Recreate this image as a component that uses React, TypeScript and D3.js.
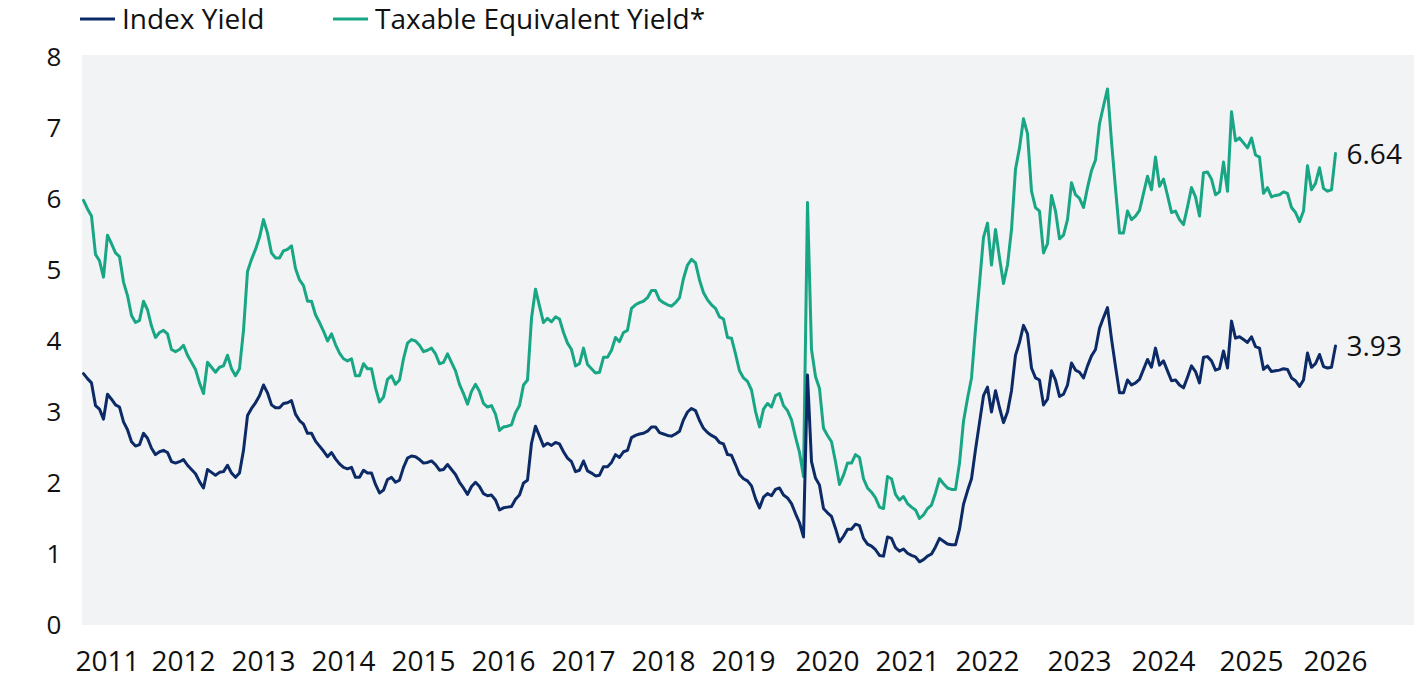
import React, { useEffect, useRef } from "react";
import * as d3 from "d3";

// Observation-indexed series (uniformly spaced observations)
const indexYield: number[] = [
  3.54,3.47,3.41,3.09,3.04,2.90,3.25,3.18,3.10,3.07,
  2.86,2.75,2.58,2.52,2.54,2.70,2.63,2.49,2.40,2.44,
  2.46,2.43,2.30,2.28,2.30,2.33,2.25,2.19,2.13,2.02,
  1.93,2.19,2.15,2.11,2.15,2.16,2.25,2.14,2.08,2.14,
  2.46,2.95,3.05,3.13,3.23,3.38,3.27,3.10,3.06,3.06,
  3.12,3.13,3.16,2.97,2.88,2.83,2.70,2.70,2.59,2.52,
  2.45,2.37,2.43,2.34,2.27,2.22,2.20,2.22,2.08,2.08,
  2.18,2.14,2.14,1.98,1.86,1.90,2.05,2.08,2.01,2.04,
  2.22,2.35,2.38,2.37,2.33,2.28,2.29,2.31,2.26,2.18,
  2.19,2.26,2.19,2.12,2.01,1.93,1.84,1.95,2.01,1.95,
  1.85,1.82,1.83,1.76,1.62,1.65,1.66,1.67,1.77,1.83,
  2.00,2.04,2.56,2.80,2.66,2.52,2.56,2.53,2.57,2.55,
  2.44,2.35,2.30,2.16,2.18,2.31,2.17,2.14,2.10,2.11,
  2.23,2.23,2.29,2.40,2.36,2.44,2.46,2.64,2.67,2.69,
  2.70,2.73,2.79,2.79,2.71,2.69,2.67,2.66,2.69,2.73,
  2.89,3.00,3.05,3.02,2.88,2.77,2.71,2.67,2.64,2.57,
  2.55,2.40,2.39,2.26,2.12,2.06,2.03,1.96,1.78,1.65,
  1.80,1.85,1.82,1.91,1.93,1.83,1.79,1.71,1.57,1.44,
  1.24,3.52,2.30,2.07,1.97,1.64,1.58,1.53,1.36,1.17,
  1.25,1.35,1.35,1.42,1.40,1.22,1.14,1.11,1.06,0.98,
  0.97,1.24,1.22,1.09,1.04,1.07,1.01,0.98,0.96,0.89,
  0.92,0.97,1.00,1.10,1.22,1.18,1.14,1.13,1.13,1.35,
  1.70,1.89,2.06,2.47,2.85,3.23,3.35,3.00,3.30,3.06,
  2.85,3.00,3.30,3.80,3.98,4.22,4.10,3.62,3.48,3.45,
  3.10,3.18,3.58,3.45,3.22,3.25,3.38,3.69,3.59,3.56,
  3.48,3.65,3.79,3.88,4.18,4.33,4.47,4.03,3.64,3.27,
  3.27,3.45,3.38,3.41,3.46,3.60,3.74,3.63,3.90,3.66,
  3.72,3.58,3.44,3.45,3.38,3.34,3.49,3.65,3.57,3.41,
  3.77,3.78,3.72,3.59,3.61,3.86,3.62,4.28,4.04,4.06,
  4.02,3.98,4.06,3.92,3.90,3.60,3.65,3.57,3.58,3.59,
  3.61,3.60,3.48,3.44,3.36,3.45,3.83,3.63,3.68,3.81,
  3.64,3.62,3.63,3.93,
];

const taxableEquivalentYield: number[] = [
  5.98,5.86,5.76,5.22,5.13,4.90,5.49,5.37,5.24,5.19,
  4.83,4.64,4.36,4.26,4.29,4.56,4.44,4.21,4.05,4.12,
  4.15,4.10,3.88,3.85,3.88,3.94,3.80,3.70,3.60,3.41,
  3.26,3.70,3.63,3.56,3.63,3.65,3.80,3.61,3.51,3.61,
  4.15,4.98,5.15,5.29,5.46,5.71,5.52,5.24,5.17,5.17,
  5.27,5.29,5.34,5.02,4.86,4.78,4.56,4.56,4.37,4.26,
  4.14,4.00,4.10,3.95,3.83,3.75,3.72,3.75,3.51,3.51,
  3.68,3.61,3.61,3.34,3.14,3.21,3.46,3.51,3.39,3.45,
  3.75,3.97,4.02,4.00,3.94,3.85,3.87,3.90,3.82,3.68,
  3.70,3.82,3.70,3.58,3.39,3.26,3.11,3.29,3.39,3.29,
  3.12,3.07,3.09,2.97,2.74,2.79,2.80,2.82,2.99,3.09,
  3.38,3.45,4.32,4.73,4.49,4.26,4.32,4.27,4.34,4.31,
  4.12,3.97,3.88,3.65,3.68,3.90,3.67,3.61,3.55,3.56,
  3.77,3.77,3.87,4.05,3.99,4.12,4.15,4.46,4.51,4.54,
  4.56,4.61,4.71,4.71,4.58,4.54,4.51,4.49,4.54,4.61,
  4.88,5.07,5.15,5.10,4.86,4.68,4.58,4.51,4.46,4.34,
  4.31,4.05,4.04,3.82,3.58,3.48,3.43,3.31,3.01,2.79,
  3.04,3.12,3.07,3.23,3.26,3.09,3.02,2.89,2.65,2.43,
  2.09,5.95,3.88,3.50,3.33,2.77,2.67,2.58,2.30,1.98,
  2.11,2.28,2.28,2.40,2.36,2.06,1.93,1.87,1.79,1.66,
  1.64,2.09,2.06,1.84,1.76,1.81,1.71,1.66,1.62,1.50,
  1.55,1.64,1.69,1.86,2.06,1.99,1.93,1.91,1.91,2.28,
  2.87,3.19,3.48,4.17,4.81,5.46,5.66,5.07,5.57,5.17,
  4.81,5.07,5.57,6.42,6.72,7.13,6.92,6.11,5.88,5.83,
  5.24,5.37,6.05,5.83,5.44,5.49,5.71,6.23,6.06,6.01,
  5.88,6.16,6.40,6.55,7.06,7.31,7.55,6.81,6.15,5.52,
  5.52,5.83,5.71,5.76,5.84,6.08,6.32,6.13,6.59,6.18,
  6.28,6.05,5.81,5.83,5.71,5.64,5.89,6.16,6.03,5.76,
  6.37,6.38,6.28,6.06,6.10,6.52,6.11,7.23,6.82,6.86,
  6.79,6.72,6.86,6.62,6.59,6.08,6.16,6.03,6.05,6.06,
  6.10,6.08,5.88,5.81,5.68,5.83,6.47,6.13,6.22,6.44,
  6.15,6.11,6.13,6.64,
];

const yearLabels = ["2011","2012","2013","2014","2015","2016","2017","2018","2019","2020","2021","2022","2023","2024","2025","2026"];
const yearLabelIndex = [6,25,45,65,85,105,125,145,165,186,206,226,249,270,292,313];
const yTicks = [0,1,2,3,4,5,6,7,8];
const seriesNames = ["Index Yield", "Taxable Equivalent Yield*"];
const lastValueLabels = ["3.93", "6.64"];

const NAVY = "#0b2a66";
const TEAL = "#18a685";
const BG = "#f2f3f5";
const FONT = "'Open Sans', 'Noto Sans', sans-serif";

export default function App() {
  const ref = useRef<SVGSVGElement | null>(null);

  useEffect(() => {
    const W = 1416, H = 680;
    const svg = d3.select(ref.current);
    svg.selectAll("*").remove();

    const n = indexYield.length;
    const x = d3.scaleLinear().domain([0, n - 1]).range([83.5, 1335.5]);
    const y = d3.scaleLinear().domain([0, 8]).range([625, 57]);

    // plot background
    svg.append("rect")
      .attr("x", 82).attr("y", y(8) - 2)
      .attr("width", W - 2 - 82).attr("height", y(0) - y(8) + 2)
      .attr("fill", BG);

    // y labels
    svg.append("g").selectAll("text").data(yTicks).join("text")
      .attr("x", 54).attr("y", (d) => y(d) + 9)
      .attr("text-anchor", "middle")
      .attr("font-family", FONT).attr("font-size", 26).attr("fill", "#111")
      .text((d) => String(d));

    // x labels
    svg.append("g").selectAll("text").data(yearLabels).join("text")
      .attr("x", (_d, i) => x(yearLabelIndex[i]))
      .attr("y", 671)
      .attr("text-anchor", "middle")
      .attr("font-family", FONT).attr("font-size", 28).attr("fill", "#111")
      .text((d) => d);

    const line = d3.line<number>()
      .x((_d, i) => x(i))
      .y((d) => y(d))
      .curve(d3.curveLinear);

    svg.append("path").datum(taxableEquivalentYield)
      .attr("d", line).attr("fill", "none")
      .attr("stroke", TEAL).attr("stroke-width", 3)
      .attr("stroke-linejoin", "round").attr("stroke-linecap", "round");

    svg.append("path").datum(indexYield)
      .attr("d", line).attr("fill", "none")
      .attr("stroke", NAVY).attr("stroke-width", 3)
      .attr("stroke-linejoin", "round").attr("stroke-linecap", "round");

    // end labels
    const ends = [indexYield[n - 1], taxableEquivalentYield[n - 1]];
    svg.append("g").selectAll("text").data(ends).join("text")
      .attr("x", x(n - 1) + 11)
      .attr("y", (d) => y(d) + 10)
      .attr("font-family", FONT).attr("font-size", 28).attr("fill", "#111")
      .text((_d, i) => lastValueLabels[i]);

    // legend
    const legend = svg.append("g");
    const items = [
      { name: seriesNames[0], color: NAVY, x0: 80 },
      { name: seriesNames[1], color: TEAL, x0: 333 },
    ];
    items.forEach((it) => {
      legend.append("line")
        .attr("x1", it.x0).attr("x2", it.x0 + 35)
        .attr("y1", 19).attr("y2", 19)
        .attr("stroke", it.color).attr("stroke-width", 3);
      legend.append("text")
        .attr("x", it.x0 + 42).attr("y", 29)
        .attr("font-family", FONT).attr("font-size", 28).attr("fill", "#111")
        .text(it.name);
    });
  }, []);

  return (
    <div style={{ position: "absolute", left: 0, top: 0 }}>
      <svg ref={ref} width={1416} height={680} style={{ display: "block" }} />
    </div>
  );
}
